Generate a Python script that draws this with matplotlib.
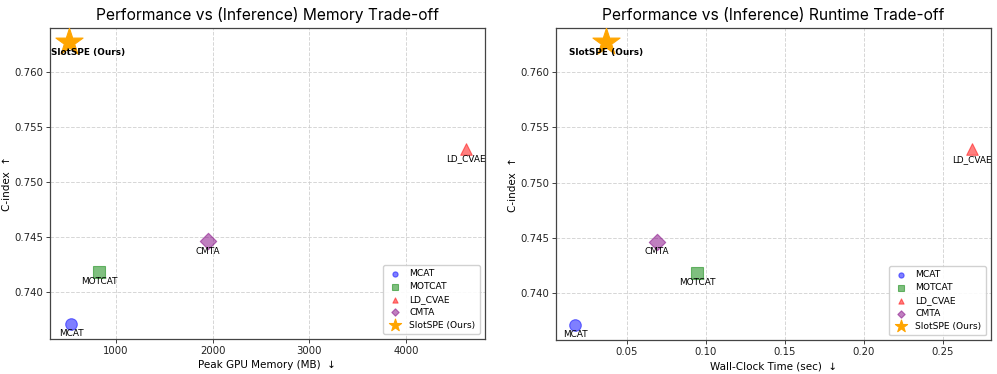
import matplotlib
matplotlib.use("Agg")
import matplotlib.pyplot as plt

methods = ["MCAT", "MOTCAT", "LD_CVAE", "CMTA", "SlotSPE (Ours)"]
cindex = [0.7371, 0.7418, 0.7530, 0.7446, 0.7627]
memory_mb = [535, 824, 4620, 1950, 514]
runtime_sec = [0.0171, 0.0943, 0.2684, 0.0690, 0.0367]

colors = ["blue", "green", "red", "purple", "orange"]
markers = ["o", "s", "^", "D", "*"]
sizes = [70, 70, 70, 70, 420]
alphas = [0.5, 0.5, 0.5, 0.5, 1.0]

fig = plt.figure(figsize=(9.97, 3.74), dpi=100)
ax1 = fig.add_axes([0.0502, 0.094, 0.436, 0.831])
ax2 = fig.add_axes([0.5577, 0.091, 0.436, 0.834])

def draw(ax, xs, title, xlabel, xlim, xticks, label_offsets):
    for i, m in enumerate(methods):
        ax.scatter(xs[i], cindex[i], c=colors[i], marker=markers[i], s=sizes[i],
                   alpha=alphas[i], label=m, zorder=3, edgecolors=colors[i],
                   linewidths=0.8)
        dx, dy = label_offsets[i]
        bold = (i == len(methods) - 1)
        ax.annotate(m, (xs[i], cindex[i]), xytext=(dx, dy), textcoords="offset points",
                    ha="center", va="center", fontsize=6.4,
                    fontweight="bold" if bold else "normal", zorder=4)
    ax.set_xlim(*xlim)
    ax.set_xticks(xticks)
    ax.set_ylim(0.73573, 0.7640)
    ax.set_yticks([0.740, 0.745, 0.750, 0.755, 0.760])
    ax.grid(True, linestyle="--", color="#cccccc", linewidth=0.7, alpha=0.8)
    ax.set_axisbelow(True)
    ax.tick_params(labelsize=7.3, length=3, width=0.6, pad=2, colors="#222222")
    for s in ax.spines.values():
        s.set_color("#444444")
        s.set_linewidth(0.9)
    ax.set_title(title, fontsize=11.2, family=["Inter", "DejaVu Sans"], pad=6)
    ax.set_xlabel(xlabel, fontsize=7.5, labelpad=3)
    ax.set_ylabel("C-index  \u2191", fontsize=7.5, labelpad=1.5)
    ax.legend(loc="lower right", fontsize=6.6, markerscale=0.45, framealpha=0.9,
              borderpad=0.5, labelspacing=0.42, handletextpad=0.8, handlelength=1.6,
              edgecolor="#cccccc", fancybox=True, borderaxespad=0.5)

draw(ax1, memory_mb, "Performance vs (Inference) Memory Trade-off",
     "Peak GPU Memory (MB)  \u2193", (317, 4817), [1000, 2000, 3000, 4000],
     [(0, -7), (0, -7), (0, -7), (0, -7), (14, -7)])
draw(ax2, runtime_sec, "Performance vs (Inference) Runtime Trade-off",
     "Wall-Clock Time (sec)  \u2193", (0.005, 0.2804), [0.05, 0.10, 0.15, 0.20, 0.25],
     [(0, -7), (0, -7), (0, -7), (0, -7), (0, -7)])

fig.savefig("out.png", dpi=100)
